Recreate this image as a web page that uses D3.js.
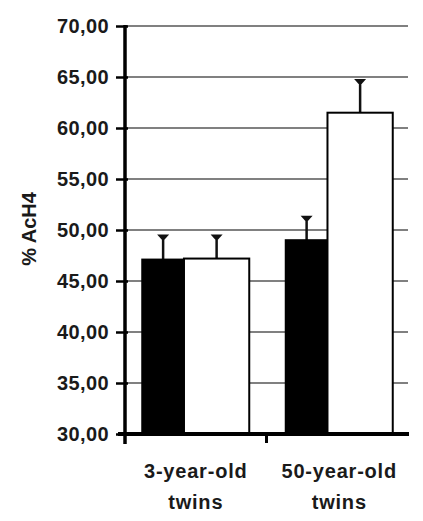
<!DOCTYPE html>
<html>
<head>
<meta charset="utf-8">
<script src="https://cdn.jsdelivr.net/npm/d3@7"></script>
<style>
  body { margin: 0; background: #fff; }
  svg text { font-family: "Liberation Sans", Arial, sans-serif; font-weight: bold; fill: #1a1a1a; }
</style>
</head>
<body>
<script>
// data
var groups = ["3-year-old twins", "50-year-old twins"];
var groupLines = [["3-year-old", "twins"], ["50-year-old", "twins"]];
var series = ["black", "white"];
var blackValues = [47.1, 49.0];
var whiteValues = [47.2, 61.5];
var blackErrors = [2.35, 2.3];
var whiteErrors = [2.25, 3.2];
var yTicks = [30, 35, 40, 45, 50, 55, 60, 65, 70];

var width = 423, height = 521;
var svg = d3.select("body").append("svg")
    .attr("width", width)
    .attr("height", height);

var y = d3.scaleLinear().domain([30, 70]).range([434, 26]);
var x0 = d3.scaleBand().domain(groups).range([125, 408]).padding(0);

// bar widths inside a group: black one narrower than white one
var span = 107;
var share = { black: 0.39, white: 0.61 };
var fill = { black: "#000", white: "#fff" };

var rows = [];
groups.forEach(function (g, i) {
  var left = x0(g) + x0.bandwidth() / 2 - span / 2 + (i === 1 ? 2 : 0);
  rows.push({ g: g, s: "black", v: blackValues[i], e: blackErrors[i], x: left, w: span * share.black });
  rows.push({ g: g, s: "white", v: whiteValues[i], e: whiteErrors[i], x: left + span * share.black, w: span * share.white });
});

// grid lines
svg.append("g").selectAll("line")
  .data(yTicks.filter(function (t) { return t > 30; }))
  .join("line")
    .attr("x1", 125).attr("x2", 408)
    .attr("y1", function (d) { return y(d); })
    .attr("y2", function (d) { return y(d); })
    .attr("stroke", "#808080")
    .attr("stroke-width", 2);

// error bars (drawn before bars so the bar top covers the stem base)
var err = svg.append("g");
err.selectAll("line.stem")
  .data(rows)
  .join("line")
    .attr("class", "stem")
    .attr("x1", function (d) { return d.x + d.w / 2; })
    .attr("x2", function (d) { return d.x + d.w / 2; })
    .attr("y1", function (d) { return y(d.v); })
    .attr("y2", function (d) { return y(d.v + d.e); })
    .attr("stroke", "#111")
    .attr("stroke-width", 2.5);
err.selectAll("path.cap")
  .data(rows)
  .join("path")
    .attr("class", "cap")
    .attr("d", function (d) {
      var cx = d.x + d.w / 2, cy = y(d.v + d.e);
      return "M" + (cx - 6) + "," + (cy - 1) + "L" + (cx + 6) + "," + (cy - 1) +
             "L" + (cx + 1.5) + "," + (cy + 4) + "L" + (cx - 1.5) + "," + (cy + 4) + "Z";
    })
    .attr("fill", "#111");

// bars
svg.append("g").selectAll("rect")
  .data(rows)
  .join("rect")
    .attr("x", function (d) { return d.x; })
    .attr("y", function (d) { return y(d.v); })
    .attr("width", function (d) { return d.w; })
    .attr("height", function (d) { return y(30) - y(d.v); })
    .attr("fill", function (d) { return fill[d.s]; })
    .attr("stroke", "#000")
    .attr("stroke-width", 2);

// y axis
var yAxis = d3.axisLeft(y)
  .tickValues(yTicks)
  .tickSize(9)
  .tickPadding(7)
  .tickFormat(function (d) { return d3.format(".2f")(d).replace(".", ","); });
var ya = svg.append("g").attr("transform", "translate(125,0)").call(yAxis);
ya.select(".domain").remove();
ya.selectAll(".tick line").attr("stroke", "#000").attr("stroke-width", 2.5).attr("x2", -9).attr("x1", 3);
ya.selectAll(".tick text")
  .attr("font-size", 20)
  .attr("letter-spacing", 0.4)
  .attr("font-family", null)
  .attr("fill", null);
svg.append("line")
  .attr("x1", 125).attr("x2", 125)
  .attr("y1", y(70) - 1).attr("y2", y(30) + 10)
  .attr("stroke", "#000").attr("stroke-width", 3.5);

// x axis
svg.append("line")
  .attr("x1", 118).attr("x2", 409)
  .attr("y1", y(30)).attr("y2", y(30))
  .attr("stroke", "#000").attr("stroke-width", 4);
svg.append("line")
  .attr("x1", x0(groups[1])).attr("x2", x0(groups[1]))
  .attr("y1", y(30)).attr("y2", y(30) + 9)
  .attr("stroke", "#000").attr("stroke-width", 3);

// x labels
groups.forEach(function (g, i) {
  var cx = x0(g) + x0.bandwidth() / 2 + (i === 1 ? 2 : 0);
  var t = svg.append("text")
    .attr("x", cx)
    .attr("y", 478)
    .attr("text-anchor", "middle")
    .attr("font-size", 20)
    .attr("letter-spacing", 0.8);
  groupLines[i].forEach(function (line, k) {
    t.append("tspan")
      .attr("x", cx)
      .attr("dy", k === 0 ? 0 : 31)
      .text(line);
  });
});

// y title
svg.append("text")
  .attr("transform", "translate(36,229) rotate(-90)")
  .attr("text-anchor", "middle")
  .attr("font-size", 20)
  .text("% AcH4");
</script>
</body>
</html>
